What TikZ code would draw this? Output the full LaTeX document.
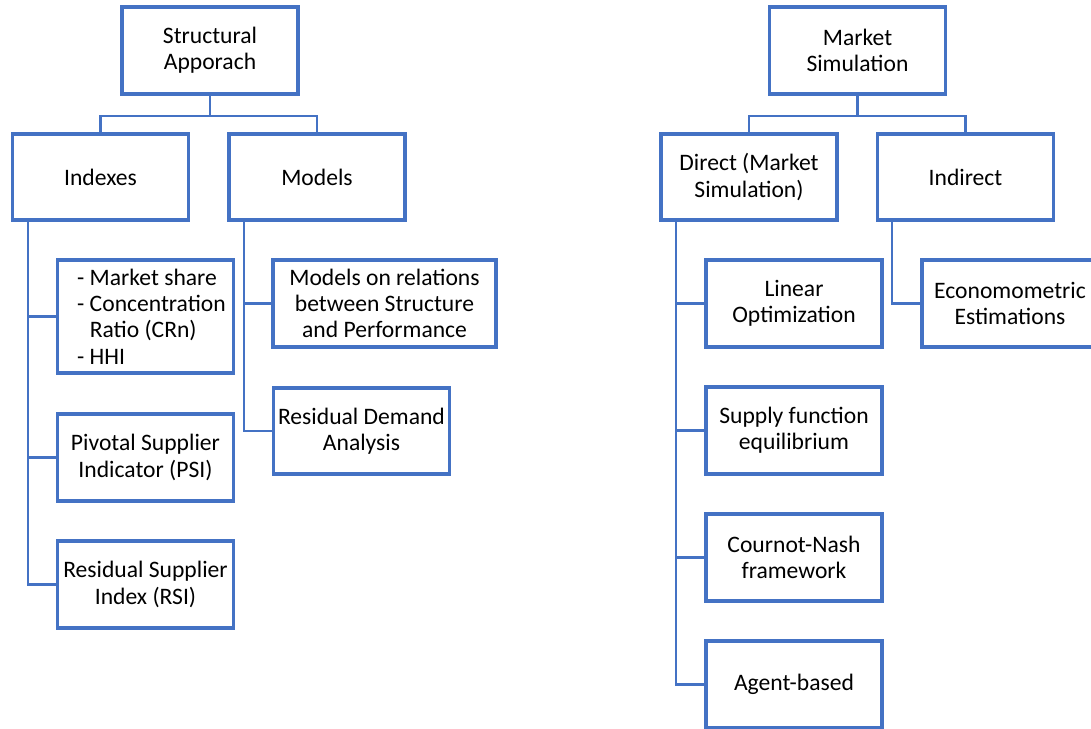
\documentclass[tikz,border=0pt]{standalone}
\usepackage{fontspec}
\setmainfont{Carlito}
\usetikzlibrary{positioning}
\definecolor{boxblue}{HTML}{4472C4}
\tikzset{
  box/.style={draw=boxblue, line width=2.8pt, minimum width=132pt, minimum height=65pt,
    align=center, inner sep=2pt, font=\fontsize{17.7}{19.7}\selectfont},
  link/.style={draw=boxblue, line width=1.6pt},
}

\begin{document}
\begin{tikzpicture}[x=0.75pt,y=-0.75pt,node distance=95.25pt,on grid]
  \clip (0,0) rectangle (1091,728);
  \fill[white] (0,0) rectangle (1091,728);

  % structural approach
  \node[box]	(sa)	at (210,50.5)	{Structural\\Apporach};
  \node[box]	(idx)	at (100.5,177)	{Indexes};
  \node[box]	(mod)	at (317,177)	{Models};
  \node[box, minimum height=85pt]	(ms)	at (145.5,316.5)
	{\raisebox{-2.3pt}[\height][\depth]{\begin{tabular}{@{\hspace{9pt}}l@{}}- Market share\\- Concentration\\\hphantom{- }Ratio (CRn)\\- HHI\end{tabular}}};
  \node[box]	(psi)	at (145.5,457.5)	{Pivotal Supplier\\Indicator (PSI)};
  \node[box]	(rsi)	[below=of psi]	{Residual Supplier\\Index (RSI)};
  \node[box, minimum width=167pt]	(rel)	at (384.5,303.5)	{Models on relations\\between Structure\\and Performance};
  \node[box]	(rda)	at (361.5,431)	{Residual Demand\\Analysis};

  % market simulation
  \node[box]	(msim)	at (857.5,50.5)	{Market\\Simulation};
  \node[box]	(dir)	at (749,177)	{Direct (Market\\Simulation)};
  \node[box]	(ind)	at (965.5,177)	{Indirect};
  \node[box]	(lin)	at (794,303.5)	{Linear\\Optimization};
  \node[box]	(sfe)	[below=of lin]	{Supply function\\equilibrium};
  \node[box]	(cn)	[below=of sfe]	{Cournot-Nash\\framework};
  \node[box]	(ab)	[below=of cn]	{Agent-based};
  \node[box]	(eco)	at (1010,303.5)	{Economometric\\Estimations};

  \draw[link] (sa.south) -- ++(0,20) -| (idx.north);
  \draw[link] (sa.south) -- ++(0,20) -| (mod.north);
  \draw[link] (idx.south west) ++(17,0) |- (ms.west);
  \draw[link] (idx.south west) ++(17,0) |- (psi.west);
  \draw[link] (idx.south west) ++(17,0) |- (rsi.west);
  \draw[link] (mod.south west) ++(16.5,0) |- (rel.west);
  \draw[link] (mod.south west) ++(16.5,0) |- (rda.west);

  \draw[link] (msim.south) -- ++(0,20) -| (dir.north);
  \draw[link] (msim.south) -- ++(0,20) -| (ind.north);
  \draw[link] (dir.south west) ++(17,0) |- (lin.west);
  \draw[link] (dir.south west) ++(17,0) |- (sfe.west);
  \draw[link] (dir.south west) ++(17,0) |- (cn.west);
  \draw[link] (dir.south west) ++(17,0) |- (ab.west);
  \draw[link] (ind.south west) ++(16,0) |- (eco.west);
\end{tikzpicture}
\end{document}
